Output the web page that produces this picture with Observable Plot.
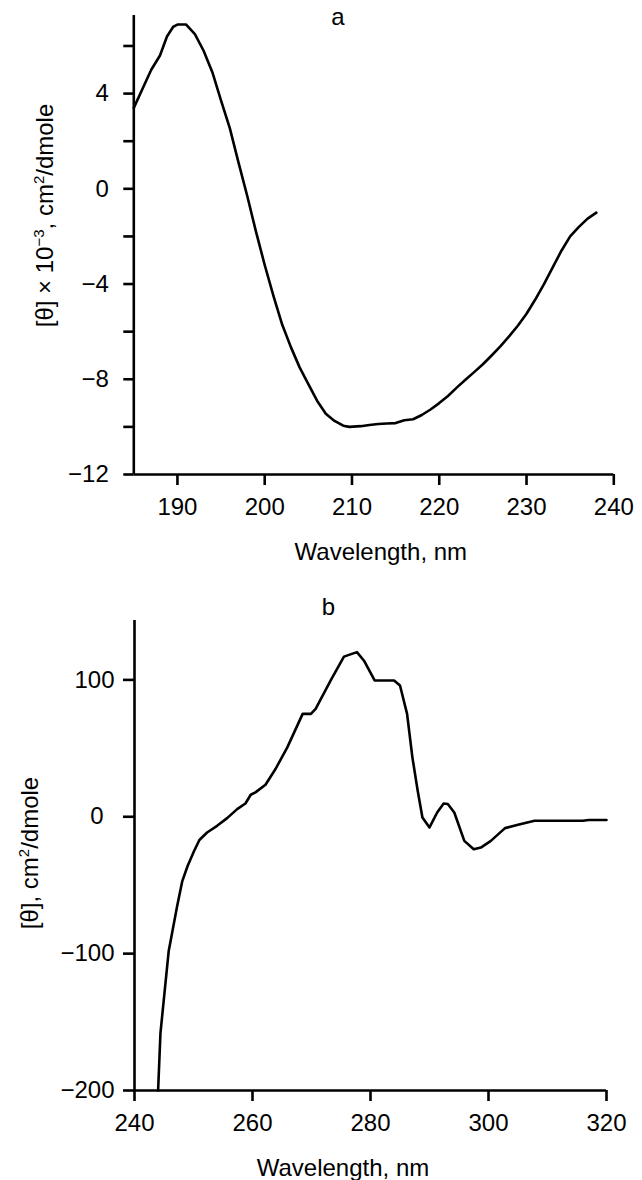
<!DOCTYPE html>
<html>
<head>
<meta charset="utf-8">
<script src="https://cdn.jsdelivr.net/npm/d3@7"></script>
<script src="https://cdn.jsdelivr.net/npm/@observablehq/plot@0.6"></script>
<style>
  body { margin: 0; background: #fff; }
  #chart svg { display: block; }
</style>
</head>
<body>
<div id="chart"></div>
<script>
// ---- Panel a: far-UV CD spectrum ----
const wavelengthA = [185,186,187,188,188.8,189.5,190,191,192,193,194,195,196,197,198,199,200,201,202,203,204,205,206,207,208,209,209.7,211,212,213,214,215,216,217,218,219,220,221,222,223,224,225,226,227,228,229,230,231,232,233,234,235,236,237,238];
const thetaA = [3.4,4.2,5.0,5.6,6.4,6.8,6.9,6.9,6.5,5.8,4.9,3.7,2.55,1.1,-0.3,-1.8,-3.2,-4.5,-5.7,-6.65,-7.5,-8.2,-8.9,-9.45,-9.75,-9.95,-10.0,-9.97,-9.92,-9.88,-9.86,-9.84,-9.72,-9.68,-9.5,-9.27,-9.0,-8.7,-8.35,-8.02,-7.7,-7.37,-7.0,-6.62,-6.2,-5.75,-5.25,-4.65,-4.0,-3.3,-2.6,-2.0,-1.6,-1.25,-1.0];
const xTicksA = [190,200,210,220,230,240];
const yTicksA = [-12,-10,-8,-6,-4,-2,0,2,4,6];
const yLabeledA = [-12,-8,-4,0,4];

// ---- Panel b: near-UV CD spectrum ----
const wavelengthB = [244,244.4,245.1,245.8,246.5,247.2,248.1,249,250.1,251,252.3,254,255.7,257.4,258.8,259.7,260.5,262.2,263.9,265.9,268.5,269.9,270.7,273.3,275.5,277.7,278.9,280.7,284,285,286.2,287.1,288,288.8,290,291.3,292.4,293.1,294.2,295.9,297.5,298.7,300.4,302.8,305,307.8,316,317,320];
const thetaB = [-200,-158,-128,-98,-82,-66,-47,-36,-25,-17,-11.5,-6.6,-1,5.6,9.7,16.1,17.8,23.4,34.9,50.7,75.2,75.2,78.8,100,117,120.3,114,99.6,99.6,95.9,75.2,43.4,19,-0.5,-7.8,3.1,9.7,9.3,3.1,-17.6,-23.7,-22.5,-17.6,-8.3,-5.9,-2.9,-2.9,-2.4,-2.4];
const xTicksB = [240,260,280,300,320];
const yTicksB = [-200,-100,100];
const yTicksB0 = [0];

const xLabel = "Wavelength, nm";
const yLabelA = "[θ] × 10−3, cm2/dmole";
const yLabelB = "[θ], cm2/dmole";

const dataA = wavelengthA.map((w, i) => ({w, t: thetaA[i]}));
const dataB = wavelengthB.map((w, i) => ({w, t: thetaB[i]}));

const FONT = "'Liberation Sans', Arial, Helvetica, sans-serif";
const FS = 24;
const fmt = d => String(d).replace("-", "\u2212");
const SW = 2.6;

const plotA = Plot.plot({
  width: 642,
  height: 580,
  marginLeft: 133.3,
  marginRight: 28.7,
  marginTop: 15,
  marginBottom: 106,
  style: {fontFamily: FONT, fontSize: FS + "px", color: "#000", background: "#fff"},
  x: {domain: [185, 240]},
  y: {domain: [-12, 7.28]},
  marks: [
    Plot.ruleY([-12], {stroke: "#000", strokeWidth: SW}),
    Plot.ruleX([185], {stroke: "#000", strokeWidth: SW}),
    Plot.axisX({ticks: xTicksA, tickSize: 11, tickPadding: 12, strokeWidth: SW, label: null, tickFormat: fmt, fontSize: FS}),
    Plot.axisY({ticks: yTicksA, tickSize: 10, tickPadding: 15, strokeWidth: SW, label: null,
      tickFormat: d => yLabeledA.includes(d) ? fmt(d) : "", fontSize: FS}),
    Plot.line(dataA, {x: "w", y: "t", stroke: "#000", strokeWidth: SW, strokeLinejoin: "round"}),
    Plot.text([xLabel], {text: d => d, frameAnchor: "bottom", textAnchor: "middle", lineAnchor: "middle", dx: 7, dy: 78.3, fontSize: FS}),
    Plot.text(["a"], {text: d => d, frameAnchor: "top", textAnchor: "middle", lineAnchor: "middle", dx: -36, dy: 2.3, fontSize: FS}),
    Plot.text([yLabelA], {text: d => d, frameAnchor: "left", textAnchor: "middle", lineAnchor: "middle", rotate: -90, dx: -88.7, dy: -29.5, fontSize: FS})
  ]
});

const plotB = Plot.plot({
  width: 642,
  height: 600,
  marginLeft: 134,
  marginRight: 36,
  marginTop: 40,
  marginBottom: 90,
  style: {fontFamily: FONT, fontSize: FS + "px", color: "#000", background: "#fff"},
  x: {domain: [240, 320]},
  y: {domain: [-200, 143.4]},
  marks: [
    Plot.ruleY([-200], {stroke: "#000", strokeWidth: SW}),
    Plot.ruleX([240], {stroke: "#000", strokeWidth: SW}),
    Plot.axisX({ticks: xTicksB, tickSize: 11, tickPadding: 12, strokeWidth: SW, label: null, tickFormat: fmt, fontSize: FS}),
    Plot.axisY({ticks: yTicksB, tickSize: 11, tickPadding: 9, strokeWidth: SW, label: null, tickFormat: fmt, fontSize: FS}),
    Plot.axisY({ticks: yTicksB0, tickSize: 11, tickPadding: 20, strokeWidth: SW, label: null, tickFormat: fmt, fontSize: FS}),
    Plot.line(dataB, {x: "w", y: "t", stroke: "#000", strokeWidth: SW, strokeLinejoin: "round"}),
    Plot.text([xLabel], {text: d => d, frameAnchor: "bottom", textAnchor: "middle", lineAnchor: "middle", dx: -27.5, dy: 78.3, fontSize: FS}),
    Plot.text(["b"], {text: d => d, frameAnchor: "top", textAnchor: "middle", lineAnchor: "middle", dx: -42, dy: -12.7, fontSize: FS}),
    Plot.text([yLabelB], {text: d => d, frameAnchor: "left", textAnchor: "middle", lineAnchor: "middle", rotate: -90, dx: -104.4, dy: -2.5, fontSize: FS})
  ]
});

// Render superscripts in the y-axis labels as tspans
function superscript(svg, label, parts) {
  const ns = "http://www.w3.org/2000/svg";
  svg.querySelectorAll("text").forEach(t => {
    if (t.textContent === label) {
      t.textContent = "";
      let prevSup = false;
      parts.forEach(([s, sup]) => {
        const ts = document.createElementNS(ns, "tspan");
        ts.textContent = s;
        if (sup) {
          ts.setAttribute("font-size", "15");
          ts.setAttribute("dy", "-9");
        } else if (prevSup) {
          ts.setAttribute("dy", "9");
        }
        prevSup = sup;
        t.appendChild(ts);
      });
    }
  });
}
superscript(plotA, yLabelA, [["[θ] × 10", false], ["\u22123", true], [", cm", false], ["2", true], ["/dmole", false]]);
superscript(plotB, yLabelB, [["[θ], cm", false], ["2", true], ["/dmole", false]]);

const chart = document.getElementById("chart");
chart.appendChild(plotA);
chart.appendChild(plotB);
</script>
</body>
</html>
